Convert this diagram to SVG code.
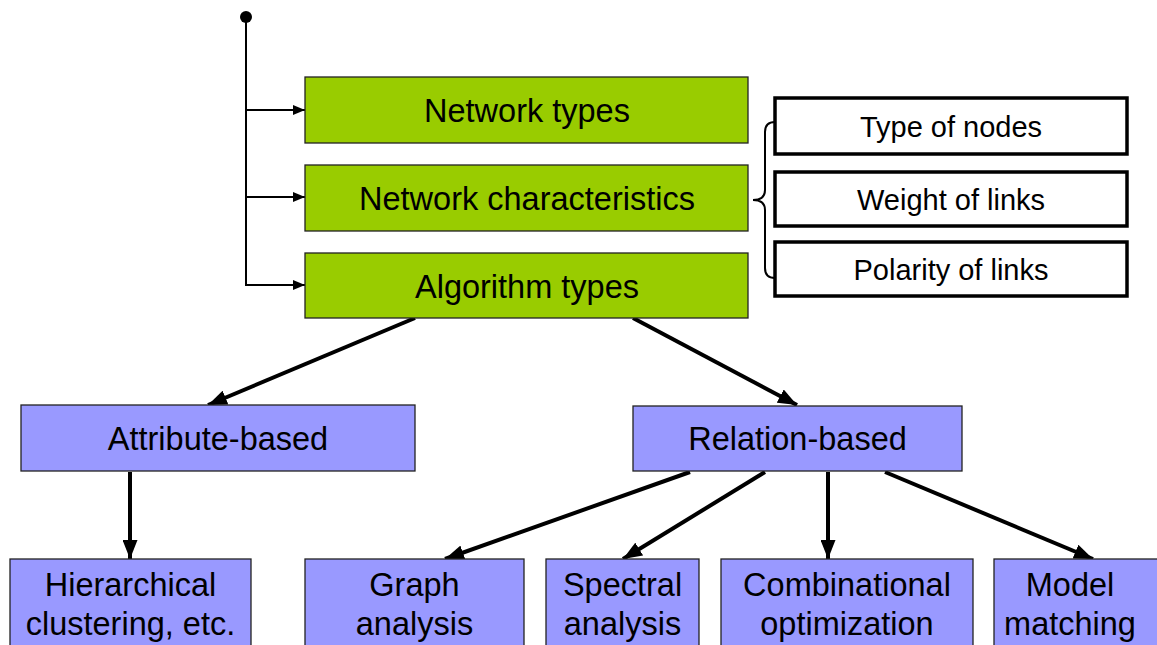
<svg xmlns="http://www.w3.org/2000/svg" width="1157" height="645" viewBox="0 0 1157 645">
<style>
text{font-family:"Liberation Sans",Arial,sans-serif;fill:#000;text-anchor:middle}
.g{fill:#99CC00;stroke:#222;stroke-width:1.3}
.b{fill:#9999FF;stroke:#222;stroke-width:1.3}
.w{fill:#fff;stroke:#000;stroke-width:3.5}
.big{font-size:32.5px}
.mid{font-size:29px}
.thin{stroke:#000;stroke-width:2;fill:none}
.thick{stroke:#000;stroke-width:4;fill:none}
</style>
<defs>
<marker id="ah" viewBox="0 0 12 10" refX="12" refY="5" markerWidth="12" markerHeight="10" markerUnits="userSpaceOnUse" orient="auto"><path d="M0,0 L12,5 L0,10 Z" fill="#000"/></marker>
<marker id="ahb" viewBox="0 0 19 15" refX="19" refY="7.5" markerWidth="19" markerHeight="15" markerUnits="userSpaceOnUse" orient="auto"><path d="M0,0 L19,7.5 L0,15 Z" fill="#000"/></marker>
</defs>
<g id="connectors">
<circle cx="246" cy="17" r="6" fill="#000"/>
<path class="thin" d="M246,17 V286"/>
<path class="thin" d="M245,110 H305" marker-end="url(#ah)"/>
<path class="thin" d="M245,197 H305" marker-end="url(#ah)"/>
<path class="thin" d="M245,285 H305" marker-end="url(#ah)"/>
<path class="thin" d="M775,122 Q765,122 765,132 V190 Q765,200 753,200 Q765,200 765,210 V268 Q765,278 775,278" stroke-width="1.5"/>
<path class="thick" d="M415,318 L208,405" marker-end="url(#ahb)"/>
<path class="thick" d="M633,318 L797,405" marker-end="url(#ahb)"/>
<path class="thick" d="M130,472 V559" marker-end="url(#ahb)"/>
<path class="thick" d="M690,472 L445,559" marker-end="url(#ahb)"/>
<path class="thick" d="M765,472 L623,559" marker-end="url(#ahb)"/>
<path class="thick" d="M828,472 V559" marker-end="url(#ahb)"/>
<path class="thick" d="M885,472 L1093,559" marker-end="url(#ahb)"/>
</g>
<g id="network-types"><rect class="g" x="305" y="77" width="443" height="66"/><text class="big" x="527" y="122">Network types</text></g>
<g id="network-characteristics"><rect class="g" x="305" y="165" width="443" height="66"/><text class="big" x="527" y="210">Network characteristics</text></g>
<g id="algorithm-types"><rect class="g" x="305" y="253" width="443" height="65"/><text class="big" x="527" y="298">Algorithm types</text></g>
<g id="type-of-nodes"><rect class="w" x="775" y="98" width="352" height="56"/><text class="mid" x="951" y="137">Type of nodes</text></g>
<g id="weight-of-links"><rect class="w" x="775" y="172" width="352" height="54"/><text class="mid" x="951" y="210">Weight of links</text></g>
<g id="polarity-of-links"><rect class="w" x="775" y="242" width="352" height="54"/><text class="mid" x="951" y="280">Polarity of links</text></g>
<g id="attribute-based"><rect class="b" x="21" y="405" width="394" height="66"/><text class="big" x="218" y="450">Attribute-based</text></g>
<g id="relation-based"><rect class="b" x="633" y="406" width="329" height="65"/><text class="big" x="797.5" y="450">Relation-based</text></g>
<g id="hierarchical"><rect class="b" x="10" y="559" width="241" height="100"/><text class="big" x="130.5" y="596">Hierarchical</text><text class="big" x="130.5" y="635">clustering, etc.</text></g>
<g id="graph-analysis"><rect class="b" x="305" y="559" width="219" height="100"/><text class="big" x="414.5" y="596">Graph</text><text class="big" x="414.5" y="635">analysis</text></g>
<g id="spectral-analysis"><rect class="b" x="546" y="559" width="153" height="100"/><text class="big" x="622.5" y="596">Spectral</text><text class="big" x="622.5" y="635">analysis</text></g>
<g id="combinational-optimization"><rect class="b" x="721" y="559" width="252" height="100"/><text class="big" x="847" y="596">Combinational</text><text class="big" x="847" y="635">optimization</text></g>
<g id="model-matching"><rect class="b" x="994" y="559" width="175" height="100"/><text class="big" x="1070" y="596">Model</text><text class="big" x="1070" y="635">matching</text></g>
</svg>
